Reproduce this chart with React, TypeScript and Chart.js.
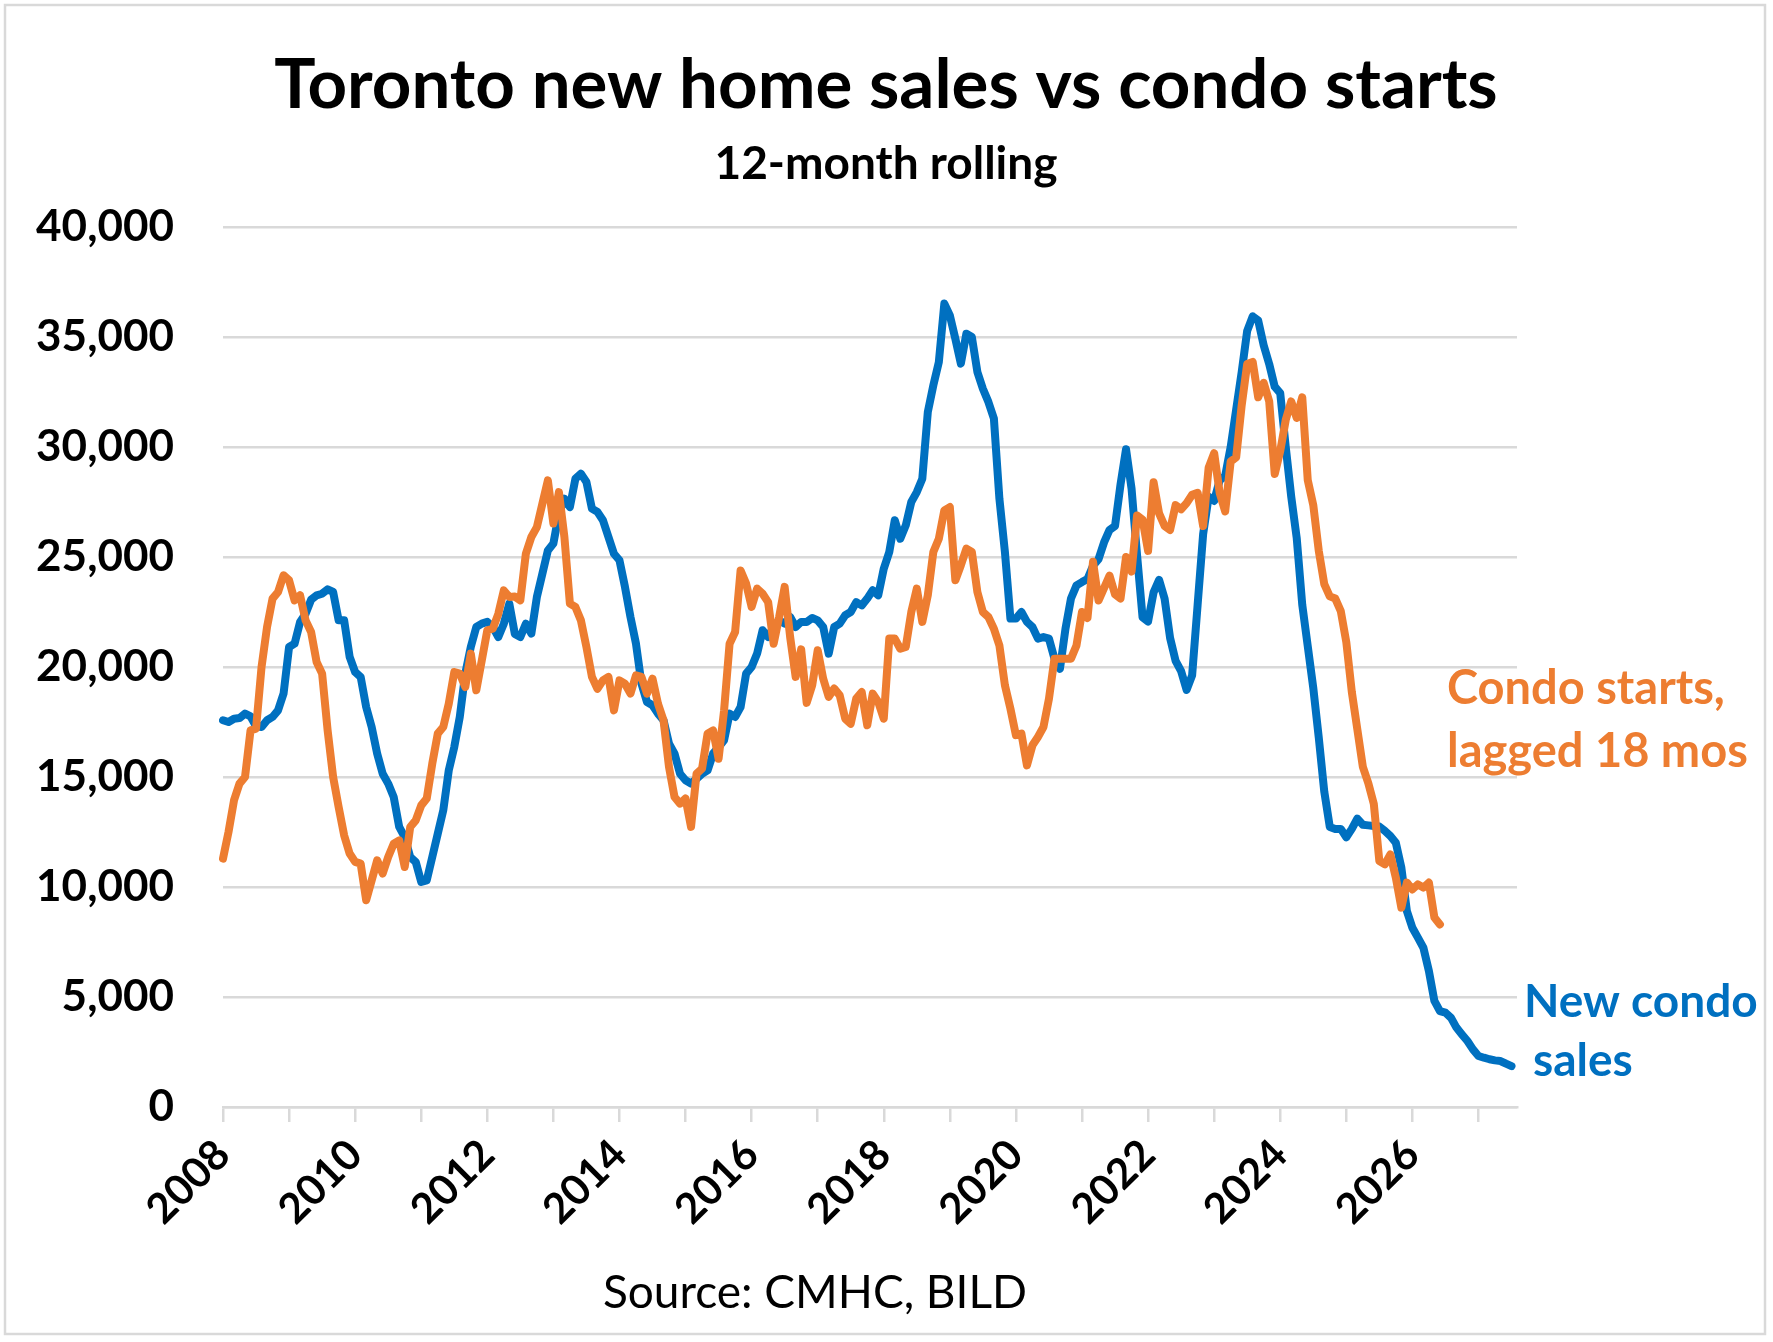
import { useEffect, useRef } from "react"
import { Chart, registerables } from "chart.js"

Chart.register(...registerables)

// Monthly x categories, Jan 2008 to Aug 2027
const firstYear = 2008
const monthCount = 236
const months = Array.from(
  { length: monthCount },
  (_, i) => `${firstYear + Math.floor(i / 12)}-${String((i % 12) + 1).padStart(2, "0")}`
)
const xTickLabels = ["2008", "2010", "2012", "2014", "2016", "2018", "2020", "2022", "2024", "2026"]
const yTicks = [0, 5000, 10000, 15000, 20000, 25000, 30000, 35000, 40000]

// New condo sales, 12-month rolling (one row per year)
const condoSales = [
  17580, 17500, 17650, 17680, 17880, 17760, 17300, 17270, 17580, 17730, 18030, 18790,
  20910, 21060, 22050, 22420, 23060, 23260, 23330, 23530, 23410, 22120, 22120, 20460,
  19770, 19550, 18180, 17270, 16060, 15150, 14700, 14090, 12730, 12270, 11360, 11140,
  10230, 10300, 11360, 12420, 13480, 15300, 16360, 17730, 19700, 20910, 21820, 21970,
  22050, 21820, 21360, 21970, 22880, 21500, 21360, 21970, 21520, 23180, 24240, 25300,
  25610, 26970, 27650, 27270, 28560, 28790, 28410, 27200, 27050, 26670, 25910, 25150,
  24850, 23640, 22270, 21060, 19240, 18410, 18260, 17880, 17580, 16520, 16060, 15150,
  14850, 14700, 14920, 15150, 15300, 16060, 16360, 16670, 17880, 17730, 18180, 19700,
  20000, 20610, 21670, 21360, 21820, 22120, 21970, 22270, 21820, 22050, 22050, 22230,
  22120, 21820, 20610, 21820, 21970, 22350, 22500, 22950, 22800, 23110, 23490, 23260,
  24470, 25230, 26670, 25830, 26440, 27500, 27950, 28560, 31590, 32800, 33860, 36520,
  35980, 34920, 33790, 35150, 35000, 33410, 32650, 32050, 31290, 27650, 25230, 22200,
  22200, 22500, 22050, 21820, 21290, 21360, 21290, 20380, 19920, 21740, 23110, 23710,
  23860, 24000, 24600, 24900, 25660, 26230, 26410, 28300, 29900, 28110, 25090, 22260,
  22070, 23390, 23960, 23110, 21320, 20280, 19810, 18960, 19620, 22830, 26040, 27740,
  27550, 28490, 28680, 30000, 31700, 33400, 35280, 35940, 35750, 34620, 33770, 32740,
  32450, 30000, 27740, 25850, 22830, 20940, 19050, 16790, 14330, 12730, 12640, 12640,
  12260, 12640, 13110, 12830, 12800, 12770, 12750, 12550, 12320, 12010, 10880, 8910,
  8150, 7700, 7240, 6180, 4820, 4360, 4290, 4060, 3610, 3300, 3000, 2620,
  2320, 2240, 2170, 2120, 2090, 1970, 1860,
]

// Condo starts, 12-month rolling, lagged 18 months
const condoStartsLagged = [
  11290, 12500, 13940, 14700, 15000, 17120, 17200, 20000, 21820, 23110, 23410, 24170,
  23940, 23030, 23260, 22120, 21590, 20230, 19700, 17120, 15000, 13640, 12350, 11520,
  11140, 11060, 9400, 10300, 11210, 10610, 11360, 11970, 12120, 10910, 12730, 13030,
  13710, 14020, 15600, 16970, 17270, 18330, 19770, 19700, 19090, 20610, 18940, 20300,
  21670, 21740, 22420, 23480, 23180, 23200, 23030, 25150, 25910, 26360, 27420, 28480,
  26520, 27950, 25910, 22880, 22730, 22120, 20910, 19550, 19010, 19390, 19550, 18030,
  19390, 19240, 18790, 19620, 19550, 18790, 19470, 18330, 17580, 15450, 14090, 13790,
  14020, 12730, 15150, 15380, 16970, 17120, 15830, 18030, 21060, 21590, 24390, 23790,
  22730, 23560, 23330, 22950, 21060, 22270, 23640, 21360, 19550, 20800, 18370, 19170,
  20760, 19470, 18640, 19020, 18710, 17650, 17420, 18560, 18860, 17350, 18790, 18410,
  17650, 21290, 21290, 20830, 20910, 22500, 23560, 22050, 23260, 25230, 25830, 27120,
  27270, 23940, 24620, 25380, 25230, 23410, 22500, 22270, 21740, 20980, 19170, 18110,
  16900, 16970, 15530, 16440, 16820, 17270, 18560, 20380, 20380, 20380, 20380, 20980,
  22500, 22230, 24780, 23020, 23580, 24150, 23300, 23110, 25000, 24340, 26890, 26700,
  25280, 28400, 26980, 26410, 26230, 27360, 27170, 27450, 27830, 27920, 26410, 29060,
  29720, 27920, 27070, 29340, 29530, 31890, 33770, 33870, 32260, 32920, 32070, 28770,
  29810, 31230, 32070, 31320, 32260, 28490, 27360, 25280, 23770, 23210, 23110, 22540,
  21130, 18870, 17170, 15470, 14720, 13770, 11180, 11030, 11480, 10420, 9060, 10200,
  9890, 10120, 9970, 10200, 8610, 8300,
]

const BLUE = "#0070C0"
const ORANGE = "#ED7D31"
const GRID = "#d9d9d9"
const FONT = "Lato, 'Open Sans', sans-serif"

// titles, source line, series labels and outer frame
const textPlugin = {
  id: "chartText",
  afterDraw(chart: Chart) {
    const ctx = chart.ctx
    ctx.save()
    ctx.strokeStyle = GRID
    ctx.lineWidth = 2.5
    ctx.strokeRect(5, 5, 1760, 1329)

    ctx.textBaseline = "alphabetic"
    ctx.fillStyle = "#000"
    ctx.textAlign = "center"
    ctx.font = `bold 69px ${FONT}`
    ctx.fillText("Toronto new home sales vs condo starts", 886, 108)
    ctx.font = `bold 46px ${FONT}`
    ctx.fillText("12-month rolling", 886, 179)
    ctx.font = `46px ${FONT}`
    ctx.fillText("Source: CMHC, BILD", 815, 1308)

    ctx.textAlign = "left"
    ctx.fillStyle = ORANGE
    ctx.font = `bold 47px ${FONT}`
    ctx.fillText("Condo starts,", 1447, 704)
    ctx.fillText("lagged 18 mos", 1447, 767)
    ctx.fillStyle = BLUE
    ctx.font = `bold 46px ${FONT}`
    ctx.fillText("New condo", 1524, 1017)
    ctx.fillText("sales", 1533, 1076)
    ctx.restore()
  },
}

export default function App() {
  const chartRef = useRef<HTMLCanvasElement>(null)
  const chartInstance = useRef<Chart | null>(null)

  useEffect(() => {
    if (!chartRef.current) return
    if (chartInstance.current) {
      chartInstance.current.destroy()
    }

    chartInstance.current = new Chart(chartRef.current, {
      type: "line",
      data: {
        labels: months,
        datasets: [
          {
            label: "New condo sales",
            data: condoSales,
            borderColor: BLUE,
            borderWidth: 8,
            pointRadius: 0,
            order: 2,
          },
          {
            label: "Condo starts, lagged 18 mos",
            data: condoStartsLagged,
            borderColor: ORANGE,
            borderWidth: 8,
            pointRadius: 0,
            order: 1,
          },
        ],
      },
      options: {
        responsive: true,
        maintainAspectRatio: false,
        animation: false,
        devicePixelRatio: 1,
        datasets: {
          line: { borderJoinStyle: "round", borderCapStyle: "round", tension: 0 },
        },
        layout: { padding: { top: 227, right: 256, bottom: 95, left: 0 } },
        plugins: {
          legend: { display: false },
          tooltip: { enabled: false },
        },
        scales: {
          x: {
            type: "category",
            afterFit: (scale: any) => {
              scale.height = 140
            },
            grid: {
              drawOnChartArea: false,
              drawTicks: true,
              tickLength: 15,
              lineWidth: 2.5,
              color: (c: any) => (c.index % 12 === 0 ? GRID : "rgba(0,0,0,0)"),
            },
            border: { color: GRID, width: 2.5 },
            ticks: {
              autoSkip: false,
              maxRotation: 45,
              minRotation: 45,
              padding: 8,
              color: "#000",
              font: { family: FONT, size: 42, weight: "bold" },
              callback: (_v: any, i: number) => (i % 24 === 0 ? xTickLabels[i / 24] : ""),
            },
          },
          y: {
            min: yTicks[0],
            max: yTicks[yTicks.length - 1],
            afterFit: (scale: any) => {
              scale.width = 223
            },
            afterBuildTicks: (scale: any) => {
              scale.ticks = yTicks.map((v) => ({ value: v }))
            },
            grid: { color: GRID, lineWidth: 2.5, drawTicks: false },
            border: { display: false },
            ticks: {
              padding: 49,
              color: "#000",
              font: { family: FONT, size: 44, weight: "bold" },
              callback: (v: any) => Number(v).toLocaleString("en-US"),
            },
          },
        },
      },
      plugins: [textPlugin],
    })

    return () => {
      if (chartInstance.current) {
        chartInstance.current.destroy()
        chartInstance.current = null
      }
    }
  }, [])

  return (
    <div style={{ position: "absolute", left: 0, top: 0, width: 1773, height: 1342, background: "#fff" }}>
      <canvas ref={chartRef}></canvas>
    </div>
  )
}
